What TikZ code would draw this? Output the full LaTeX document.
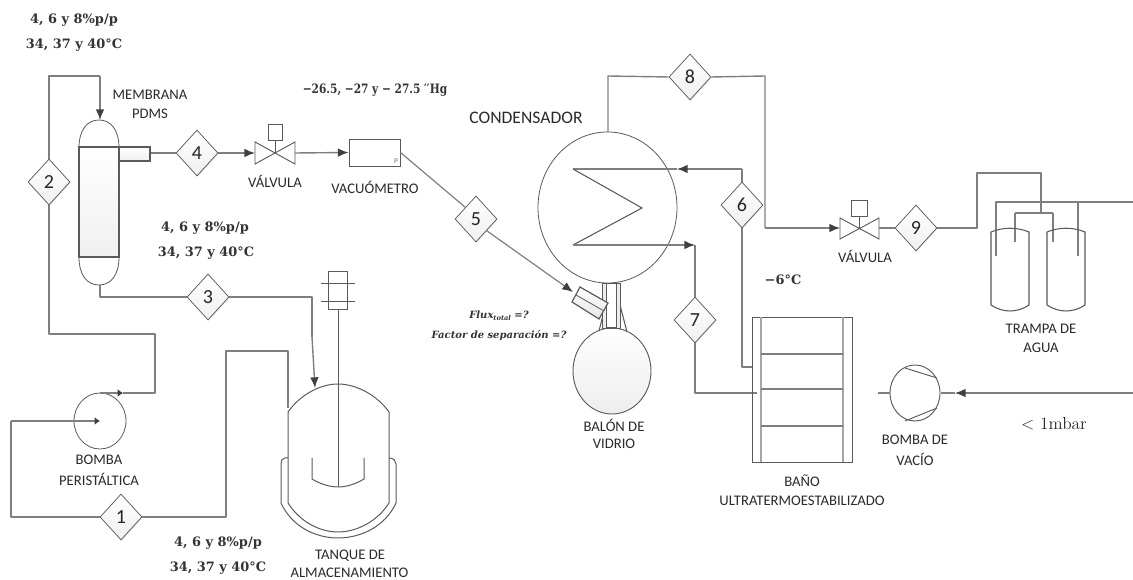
\documentclass[tikz,border=0pt]{standalone}
\usepackage{fontspec}
\setsansfont{Carlito}
\newfontfamily\condfont{DejaVu Serif}
\usetikzlibrary{shapes.geometric,arrows.meta,shadows}
\definecolor{pipegray}{HTML}{7F7F7F}
\definecolor{eqgray}{HTML}{5A5A5A}
\definecolor{tipgray}{HTML}{404040}
\definecolor{txtdark}{HTML}{2A2A2A}
\tikzset{
  x=0.75pt,y=-0.75pt,
  pipe/.style={draw=pipegray,line width=1.05pt,line join=round},
  thin eq/.style={draw=eqgray,line width=0.6pt},
  tipped/.style={-{Latex[length=8pt,width=6.5pt,color=tipgray]}},
  smalltip/.style={-{Latex[length=4pt,width=6pt,color=tipgray]}},
  shade eq/.style={top color=white,bottom color=black!7},
  stream/.style={diamond,draw=eqgray,line width=0.55pt,top color=white,bottom color=black!6,
    minimum width=31.5pt,minimum height=34.5pt,inner sep=0pt,
    font=\sffamily\fontsize{15}{15}\selectfont,text=black!85,
    drop shadow={shadow xshift=0.6pt,shadow yshift=-0.6pt,fill=black!25,opacity=0.4}},
  lab/.style={font=\sffamily\fontsize{11}{12}\selectfont,text=txtdark,inner sep=0pt},
  cond/.style={font=\condfont\bfseries\fontsize{9.7}{11}\selectfont,text=black!80,inner sep=0pt},
  valvebody/.style={draw=eqgray,line width=0.7pt,fill=white},
}
\begin{document}
\begin{tikzpicture}
\useasboundingbox (0,0) rectangle (1133,580);

% ---- named coordinates
\coordinate (memTop) at (100,120);
\coordinate (memBot) at (100,285);
\coordinate (c2top) at (49,76);
\coordinate (c2mid) at (100,76);
\coordinate (c2low) at (49,334);
\coordinate (c2r) at (155,334);
\coordinate (c2out) at (155,393);
\coordinate (pOut) at (100,393);
\coordinate (pTip) at (123,393);
\coordinate (pCen) at (100,421);
\coordinate (pIn) at (11,421);
\coordinate (c1r) at (226,517);
\coordinate (c1t) at (226,351);
\coordinate (c1e) at (288,351);
\coordinate (c1d) at (288,408);
\coordinate (memOut) at (150,153);
\coordinate (c3a) at (312,297);
\coordinate (c3b) at (312,337);
\coordinate (c3c) at (315,388);
\coordinate (v1L) at (255,153);
\coordinate (v1R) at (295,153);
\coordinate (flaskIn) at (573,292);
\coordinate (cz1) at (573,169);
\coordinate (cz2) at (642,208);
\coordinate (cz3) at (573,245);
\coordinate (c6t) at (742,169);
\coordinate (c6tip) at (677,169);
\coordinate (c7t) at (695,245);
\coordinate (c7b) at (695,393);
\coordinate (c7e) at (757,393);
\coordinate (c6b) at (742,367);
\coordinate (c6e) at (752,367);
\coordinate (c8t) at (608,76);
\coordinate (c8b) at (608,132);
\coordinate (c8r) at (765,76);
\coordinate (c8d) at (765,228);
\coordinate (v2L) at (840,228);
\coordinate (v2R) at (879,228);
\coordinate (c9r) at (977,228);
\coordinate (c9t) at (977,173);
\coordinate (j1t) at (1041,173);
\coordinate (j1) at (1041,213);
\coordinate (j1l) at (1015,213);
\coordinate (j1ld) at (1015,242);
\coordinate (j1r) at (1053,213);
\coordinate (j1rd) at (1053,242);
\coordinate (j2l) at (996,202);
\coordinate (j2ld) at (996,256);
\coordinate (j2r) at (1078,202);
\coordinate (j2rd) at (1078,256);
\coordinate (j2e) at (1133,202);
\coordinate (vacE) at (1133,393);
\coordinate (vacTip) at (955,393);
\coordinate (vacIn) at (941,393);
\coordinate (vacS) at (878,393);
\coordinate (vacSe) at (890,393);

% ---- stream diamonds
\node[stream] (d1) at (121,517) {1};
\node[stream] (d2) at (49,182) {2};
\node[stream] (d3) at (208,297) {3};
\node[stream] (d4) at (197,153) {4};
\node[stream] (d5) at (476,219) {5};
\node[stream] (d6) at (742,205) {6};
\node[stream] (d7) at (695,320) {7};
\node[stream] (d8) at (690,77) {8};
\node[stream] (d9) at (916,228) {9};

% ---- equipment nodes
\node[ellipse,thin eq,minimum width=39pt,minimum height=42pt,inner sep=0pt] (pump1) at (pCen) {};
\node[rectangle,draw=eqgray,line width=0.7pt,fill=white,minimum width=38.25pt,minimum height=20.25pt,inner sep=0pt] (vacu) at (374.5,152.5) {};
\node[ellipse,thin eq,minimum width=104.25pt,minimum height=113.25pt,inner sep=0pt] (conden) at (607.5,207.5) {};
\node[ellipse,draw=eqgray,line width=0.7pt,shade eq,minimum width=58.5pt,minimum height=64.5pt,inner sep=0pt] (balon) at (612,371) {};
\node[ellipse,draw=eqgray,line width=0.7pt,minimum width=37.5pt,minimum height=42pt,inner sep=0pt] (pump2) at (915,393) {};

% ---- connectors
\draw[pipe] (d2.north) -- (c2top) -- (c2mid);
\draw[pipe,tipped] (c2mid) -- (memTop);
\draw[pipe] (d2.south) -- (c2low) -- (c2r) -- (c2out) -- (pTip);
\draw[pipe,smalltip] (pOut) -- (pTip);
\draw[pipe,smalltip] (pIn) -- (pCen);
\draw[pipe] (pIn) |- (d1.west);
\draw[pipe] (d1.east) -- (c1r) -- (c1t) -- (c1e) -- (c1d);
\draw[pipe] (memBot) |- (d3.west);
\draw[pipe] (d3.east) -- (c3a) -- (c3b);
\draw[pipe,tipped] (c3b) -- (c3c);
\draw[pipe] (memOut) -- (d4.west);
\draw[pipe,tipped] (d4.east) -- (v1L);
\draw[pipe,tipped] (v1R) -- (vacu.west);
\draw[draw=pipegray,line width=0.9pt] (vacu.east) -- (d5.north west);
\draw[draw=pipegray,line width=0.9pt,tipped] (d5.south east) -- (flaskIn);
\draw[pipe] (c6tip) -- (cz1);
\draw[thin eq,line width=0.8pt] (cz1) -- (cz2) -- (cz3);
\draw[pipe,tipped] (cz3) -- (c7t);
\draw[pipe,tipped] (c6t) -- (c6tip);
\draw[pipe] (c6t) -- (d6.north);
\draw[pipe] (d6.south) -- (c6b) -- (c6e);
\draw[pipe] (c7t) -- (d7.north);
\draw[pipe] (d7.south) -- (c7b) -- (c7e);
\draw[pipe] (c8b) -- (c8t) -- (d8.west);
\draw[pipe] (d8.east) -- (c8r) -- (c8d);
\draw[pipe,tipped] (c8d) -- (v2L);
\draw[pipe] (v2R) -- (d9.west);
\draw[pipe] (d9.east) -- (c9r) -- (c9t) -- (j1t) -- (j1);
\draw[pipe] (j1l) -- (j1r);
\draw[pipe] (j1l) -- (j1ld);
\draw[pipe] (j1r) -- (j1rd);
\draw[pipe] (j2ld) -- (j2l) -- (j2e);
\draw[pipe] (j2r) -- (j2rd);
\draw[pipe,tipped] (vacE) -- (vacTip);
\draw[pipe] (vacTip) -- (vacIn);
\draw[pipe] (vacS) -- (vacSe);

% ---- membrane column
\draw[thin eq,fill=white] (79,148) .. controls (79,130) and (87,120) .. (99,120) .. controls (111,120) and (119,130) .. (119,148) -- (119,257) .. controls (119,275) and (111,285) .. (99,285) .. controls (87,285) and (79,275) .. (79,257) -- cycle;
\draw[draw=eqgray,line width=0.9pt,top color=white,bottom color=black!6] (79,147) rectangle (119,257);
\draw[draw=eqgray,line width=0.8pt,top color=white,bottom color=black!6] (119,147) rectangle (150,161);

% ---- valves
\draw[valvebody] (255,142) -- (295,164) -- (295,142) -- (255,164) -- cycle;
\draw[thin eq] (275,153) -- (275,140);
\draw[valvebody] (268,124) rectangle (282,140);
\draw[valvebody] (840,218) -- (879,239) -- (879,218) -- (840,239) -- cycle;
\draw[thin eq] (859,229) -- (859,216);
\draw[valvebody] (851,200) rectangle (867,216);
\node[font=\sffamily\fontsize{5.5}{6}\selectfont,text=black!55,inner sep=0pt] (pmark) at (396,161) {P};

% ---- flask neck
\draw[thin eq,line width=0.8pt] (603,315) -- (599,331);
\draw[thin eq,line width=0.8pt] (620,305) -- (627,332);
\draw[thin eq,fill=black!7] (602,283) rectangle (620,328);
\draw[thin eq,fill=white] (606,283) rectangle (616,327);
\draw[draw=eqgray,line width=0.9pt,top color=white,bottom color=black!10] (580,287) -- (608,303) -- (599,319) -- (572,302) -- cycle;
\draw[thin eq] (576,295) -- (604,311);

% ---- tank
\draw[thin eq,line width=0.75pt] (288,412) .. controls (300,395) and (320,384) .. (338,384) .. controls (356,384) and (377,395) .. (389,412) -- (389,503) .. controls (377,522) and (356,532) .. (338,532) .. controls (320,532) and (300,522) .. (288,503) -- cycle;
\draw[thin eq,line width=0.75pt] (288,458) -- (285,458) .. controls (282,458) and (281,461) .. (281,464) -- (281,503) .. controls (292,527) and (316,538) .. (338,538) .. controls (360,538) and (385,527) .. (396,503) -- (396,464) .. controls (396,461) and (394,458) .. (389,458);
\draw[thin eq,line width=0.75pt] (312,458) -- (312,479) .. controls (320,484) and (330,487) .. (338,487) .. controls (346,487) and (356,484) .. (364,479) -- (364,458);
\draw[thin eq,line width=0.75pt] (338,310) -- (338,487);
\draw[thin eq,line width=0.75pt] (328,272) rectangle (347,310);
\draw[thin eq,line width=0.75pt] (321,284) -- (355,284);
\draw[thin eq,line width=0.75pt] (321,302) -- (355,302);

% ---- traps
\draw[thin eq,line width=0.8pt] (991,232) .. controls (1003,227) and (1017,227) .. (1029,232) -- (1029,305) .. controls (1017,313) and (1003,313) .. (991,305) -- cycle;
\draw[thin eq,line width=0.8pt] (1047,232) .. controls (1059,227) and (1073,227) .. (1085,232) -- (1085,305) .. controls (1073,313) and (1059,313) .. (1047,305) -- cycle;

% ---- vacuum pump chords
\draw[thin eq,line width=0.7pt] (905,368) -- (937,378);
\draw[thin eq,line width=0.7pt] (905,421) -- (937,408);

% ---- bath
\draw[thin eq,line width=0.7pt] (852,317) -- (752,317) -- (752,462) -- (852,462) -- cycle;
\draw[draw=black!35,line width=0.9pt] (761,317) -- (761,462);
\draw[draw=black!35,line width=0.9pt] (843,317) -- (843,462);
\draw[draw=pipegray,line width=0.8pt] (761,354) -- (843,354);
\draw[draw=pipegray,line width=0.8pt] (761,389) -- (843,389);
\draw[draw=pipegray,line width=0.8pt] (761,426) -- (843,426);

% ---- labels
\node[lab] (lm1) at (150,95) {MEMBRANA};
\node[lab] (lm2) at (150,114) {PDMS};
\node[lab] (lv1) at (275,181) {VÁLVULA};
\node[lab] (lvac) at (375,187) {VACUÓMETRO};
\node[lab,font=\sffamily\fontsize{13.2}{14}\selectfont] (lcond) at (526,118) {CONDENSADOR};
\node[lab] (lb1) at (99,460) {BOMBA};
\node[lab] (lb2) at (99,479) {PERISTÁLTICA};
\node[lab] (lt1) at (350,556) {TANQUE DE};
\node[lab] (lt2) at (349.5,573) {ALMACENAMIENTO};
\node[lab] (lf1) at (614,425) {BALÓN DE};
\node[lab] (lf2) at (614,444) {VIDRIO};
\node[lab] (lu1) at (802,481) {BAÑO};
\node[lab] (lu2) at (802,501) {ULTRATERMOESTABILIZADO};
\node[lab] (lp1) at (1041,329) {TRAMPA DE};
\node[lab] (lp2) at (1041,348) {AGUA};
\node[lab] (lv1b) at (915,440) {BOMBA DE};
\node[lab] (lv2b) at (915,459) {VACÍO};
\node[lab] (lv2) at (865,256) {VÁLVULA};

\node[cond] (a1) at (74,20) {4, 6 y 8\%p/p};
\node[cond] (a2) at (74,45) {34, 37 y 40°C};
\node[cond] (b1) at (205,228) {4, 6 y 8\%p/p};
\node[cond] (b2) at (206,253) {34, 37 y 40°C};
\node[cond] (e1) at (218,543) {4, 6 y 8\%p/p};
\node[cond] (e2) at (218,568) {34, 37 y 40°C};
\node[cond] (hg) at (375,90) {\scalebox{0.82}[1]{−26.5, −27 y − 27.5 ′′Hg}};
\node[cond] (t6) at (783,280) {−6°C};
\node[font=\fontsize{13}{14}\selectfont,text=black!85,inner sep=0pt] (mb) at (1054,424) {< 1mbar};
\node[cond,font=\condfont\bfseries\itshape\fontsize{7.5}{9}\selectfont] (fx) at (499,316) {Flux\raisebox{-1.5pt}{\fontsize{5}{6}\selectfont total} =?};
\node[cond,font=\condfont\bfseries\itshape\fontsize{7.5}{9}\selectfont] (fs) at (499,336) {Factor de separación =?};
\end{tikzpicture}
\end{document}
